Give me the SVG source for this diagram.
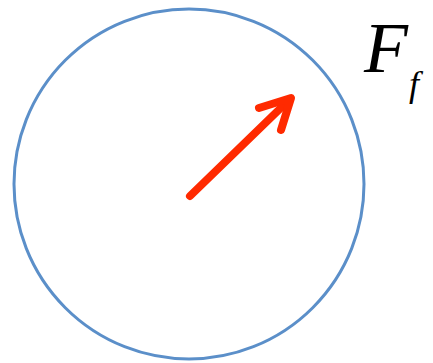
<svg xmlns="http://www.w3.org/2000/svg" width="433" height="363" viewBox="0 0 433 363">
<style>
.lbl{font-family:"Liberation Serif","Times New Roman",serif;font-style:italic;fill:#000}
.arr{fill:none;stroke:#FF2A00;stroke-width:8;stroke-linecap:round;stroke-linejoin:round}
</style>
<rect width="433" height="363" fill="#fff"/>
<g id="circle"><circle cx="189" cy="184" r="175" fill="none" stroke="#5B8FC9" stroke-width="3"/></g>
<g id="connectors">
<line x1="190" y1="196" x2="289" y2="100" class="arr" stroke-linecap="butt"/>
<polyline points="259,108 291,98 281,130" class="arr"/>
</g>
<g id="label"><text class="lbl" x="364" y="72" font-size="72">F</text><text class="lbl" x="409" y="96" font-size="36">f</text></g>
</svg>
